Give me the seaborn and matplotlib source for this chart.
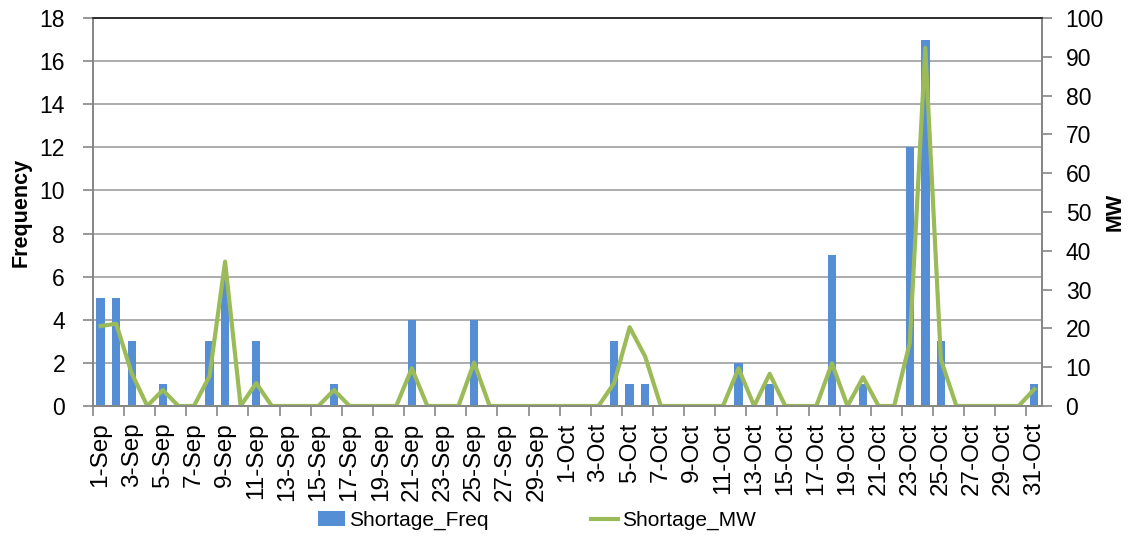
import numpy as np
import pandas as pd
import seaborn as sns
import matplotlib.pyplot as plt
from matplotlib.lines import Line2D
from matplotlib.patches import Patch

# 1-Sep .. 31-Oct
days = [d.strftime('%-d-%b') for d in pd.date_range('2013-09-01', '2013-10-31')]

shortage_freq = [5, 5, 3, 0, 1, 0, 0, 3, 6, 0,
                 3, 0, 0, 0, 0, 1, 0, 0, 0, 0,
                 4, 0, 0, 0, 4, 0, 0, 0, 0, 0,
                 0, 0, 0, 3, 1, 1, 0, 0, 0, 0,
                 0, 2, 0, 1, 0, 0, 0, 7, 0, 1,
                 0, 0, 12, 17, 3, 0, 0, 0, 0, 0,
                 1]
shortage_mw = [20.6, 21.2, 8.4, 0, 4.1, 0, 0, 7.7, 37.2, 0,
               5.9, 0, 0, 0, 0, 4.1, 0, 0, 0, 0,
               9.7, 0, 0, 0, 11.2, 0, 0, 0, 0, 0,
               0, 0, 0, 5.9, 20.3, 12.7, 0, 0, 0, 0,
               0, 9.7, 0, 8.3, 0, 0, 0, 11.0, 0, 7.4,
               0, 0, 16.2, 92.3, 12.0, 0, 0, 0, 0, 0,
               4.3]

df = pd.DataFrame({'day': days, 'pos': np.arange(len(days)),
                   'Shortage_Freq': shortage_freq, 'Shortage_MW': shortage_mw})

bar_color = '#558ED5'
line_color = '#9BBB59'
axis_color = '#868686'
plt.rcParams['font.family'] = ['Liberation Sans', 'DejaVu Sans']

fig = plt.figure(figsize=(11.32, 5.37), dpi=100)
ax = fig.add_axes([0.082, 0.244, 0.8385, 0.7225])

sns.barplot(data=df, x='pos', y='Shortage_Freq', color=bar_color, width=0.54,
            saturation=1, ax=ax, zorder=2)
ax.set_xlim(-0.5, len(days) - 0.5)
ax.set_ylim(0, 18)
ax.set_yticks(range(0, 19, 2))
ax.yaxis.grid(True, color='#a6a6a6', linewidth=1.3)
ax.set_axisbelow(True)

ax2 = ax.twinx()
sns.lineplot(data=df, x='pos', y='Shortage_MW', color=line_color, linewidth=3,
             sort=False, ax=ax2)
ax2.set_ylim(0, 100)
ax2.set_yticks(range(0, 101, 10))
ax2.set_xlim(-0.5, len(days) - 0.5)

# category labels every second day, tick marks between categories
ax.set_xticks(range(0, len(days), 2))
ax.set_xticklabels(days[::2], rotation=90, fontsize=17.5)
ax.set_xticks(np.arange(-0.5, len(days), 2), minor=True)
ax.tick_params(axis='x', which='major', length=0, pad=12)
ax.tick_params(axis='x', which='minor', length=7, color=axis_color, width=1.2)
ax.tick_params(axis='y', length=7, color=axis_color, width=1.2, labelsize=16.5, pad=13)
ax2.tick_params(axis='y', length=7, color=axis_color, width=1.2, labelsize=16.5, pad=10)

ax.set_xlabel('')
ax.set_ylabel('Frequency', fontsize=15.5, fontweight='bold', labelpad=6)
ax2.set_ylabel('MW', fontsize=15.5, fontweight='bold')
ax2.yaxis.set_label_coords(1.077, 0.5)
ax2.yaxis.label.set_va('center')
ax2.yaxis.label.set_ha('center')

for a in (ax, ax2):
    for side in ('left', 'right', 'bottom'):
        a.spines[side].set_color(axis_color)
        a.spines[side].set_linewidth(1.3)
    a.spines['top'].set_color('#303030')
    a.spines['top'].set_linewidth(1.3)

handles = [Patch(facecolor=bar_color, edgecolor='none'),
           Line2D([0], [0], color=line_color, linewidth=3)]
ax.legend(handles, ['Shortage_Freq', 'Shortage_MW'], loc='center',
          bbox_to_anchor=(0.468, -0.295), ncol=2, frameon=False, fontsize=15,
          handlelength=1.3, handletextpad=0.2, columnspacing=4.9)

fig.savefig('out.png', dpi=100)
